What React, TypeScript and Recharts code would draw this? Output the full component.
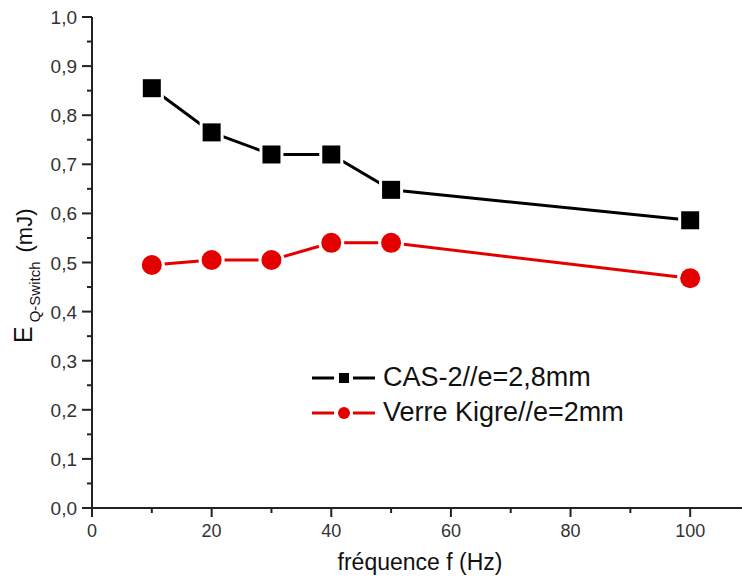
import React from 'react'
import { LineChart, Line, XAxis, YAxis, Legend } from 'recharts'

const FREQ = [10, 20, 30, 40, 50, 100]
const CAS2 = [0.855, 0.765, 0.72, 0.72, 0.648, 0.586]
const VERRE = [0.495, 0.505, 0.505, 0.54, 0.54, 0.468]

const X_TICKS = [0, 10, 20, 30, 40, 50, 60, 70, 80, 90, 100]
const Y_TICKS = [0, 0.05, 0.1, 0.15, 0.2, 0.25, 0.3, 0.35, 0.4, 0.45, 0.5, 0.55, 0.6, 0.65, 0.7, 0.75, 0.8, 0.85, 0.9, 0.95, 1.0]

const SERIES_NAMES = ['CAS-2//e=2,8mm', 'Verre Kigre//e=2mm']

const data = FREQ.map((f, i) => ({ f, cas: CAS2[i], verre: VERRE[i] }))

const FONT = '"Liberation Sans", Arial, sans-serif'
const AXIS = '#222'
const RED = '#e50000'

const isMajorX = (v: number) => v % 20 === 0
const isMajorY = (v: number) => Math.round(v * 100) % 10 === 0
const fmtY = (v: number) => v.toFixed(1).replace('.', ',')

function XTick(props: any) {
  const { x, y, payload, side } = props
  const major = isMajorX(payload.value)
  const len = major ? 9 : 5
  if (side === 'top') {
    return <line x1={x} y1={y} x2={x} y2={y + len} stroke={AXIS} strokeWidth={2} />
  }
  return (
    <g>
      <line x1={x} y1={y} x2={x} y2={y + len} stroke={AXIS} strokeWidth={2} />
      {major && (
        <text x={x} y={y + 29} textAnchor="middle" fontSize={18} fill="#333" fontFamily={FONT}>
          {payload.value}
        </text>
      )}
    </g>
  )
}

function YTick(props: any) {
  const { x, y, payload, side } = props
  const major = isMajorY(payload.value)
  const len = major ? 10 : 5
  if (side === 'right') {
    return <line x1={x - len} y1={y} x2={x} y2={y} stroke={AXIS} strokeWidth={2} />
  }
  return (
    <g>
      <line x1={x - len} y1={y} x2={x} y2={y} stroke={AXIS} strokeWidth={2} />
      {major && (
        <text x={x - 15} y={y + 7} textAnchor="end" fontSize={19} fill="#333" fontFamily={FONT}>
          {fmtY(payload.value)}
        </text>
      )}
    </g>
  )
}

function SquareDot(props: any) {
  const { cx, cy } = props
  if (cx == null || cy == null) return null
  return (
    <rect x={cx - 9} y={cy - 9} width={18} height={18} fill="#000"
      stroke="#fff" strokeWidth={6} style={{ paintOrder: 'stroke' }} />
  )
}

function CircleDot(props: any) {
  const { cx, cy } = props
  if (cx == null || cy == null) return null
  return (
    <circle cx={cx} cy={cy} r={10} fill={RED} stroke="#fff" strokeWidth={6}
      style={{ paintOrder: 'stroke' }} />
  )
}

function YLabel() {
  return (
    <text x={32} y={343} transform="rotate(-90, 32, 343)" fill="#111" fontFamily={FONT}>
      <tspan fontSize={25}>E</tspan>
      <tspan fontSize={15} dx={4} dy={8}>Q-Switch</tspan>
      <tspan fontSize={22} dx={9} dy={-8}>(mJ)</tspan>
    </text>
  )
}

function LegendBox(props: any) {
  const items = props.payload || []
  return (
    <div style={{ fontFamily: FONT }}>
      {items.map((it: any) => {
        const isCas = it.dataKey === 'cas'
        const color = isCas ? '#000' : RED
        return (
          <div key={it.dataKey} style={{ display: 'flex', alignItems: 'center', height: 35 }}>
            <svg width={71} height={20} style={{ flex: 'none' }}>
              <line x1={0} y1={10} x2={22} y2={10} stroke={color} strokeWidth={3} />
              <line x1={41} y1={10} x2={63} y2={10} stroke={color} strokeWidth={3} />
              {isCas
                ? <rect x={27} y={5} width={10} height={10} fill={color} />
                : <circle cx={32} cy={10} r={6} fill={color} />}
            </svg>
            <span style={{ fontSize: 27, color: '#111', lineHeight: '35px' }}>{it.value}</span>
          </div>
        )
      })}
    </div>
  )
}

export default function App() {
  return (
    <div style={{ position: 'absolute', left: 0, top: 0, width: 742, height: 583, overflow: 'hidden', background: '#fff' }}>
      <LineChart width={800} height={583} data={data} margin={{ top: 17, right: 50, bottom: 0, left: 0 }}>
        <XAxis xAxisId="b" dataKey="f" type="number" domain={[0, 110]} ticks={X_TICKS} interval={0}
          height={75} tickSize={0} tickMargin={0} tickLine={false}
          axisLine={{ stroke: AXIS, strokeWidth: 2 }}
          tick={(p: any) => <XTick {...p} side="bottom" />}
          label={() => (
            <text x={420} y={570} textAnchor="middle" fontSize={23} fill="#111" fontFamily={FONT}>
              fréquence f (Hz)
            </text>
          )} />
        <XAxis xAxisId="t" orientation="top" type="number" domain={[0, 110]} ticks={X_TICKS} interval={0}
          height={0} tickSize={0} tickMargin={0} tickLine={false}
          axisLine={{ stroke: AXIS, strokeWidth: 2 }}
          tick={(p: any) => <XTick {...p} side="top" />} />
        <YAxis yAxisId="l" type="number" domain={[0, 1]} ticks={Y_TICKS} interval={0}
          width={92} tickSize={0} tickMargin={0} tickLine={false}
          axisLine={{ stroke: AXIS, strokeWidth: 2 }}
          tick={(p: any) => <YTick {...p} side="left" />}
          label={() => <YLabel />} />
        <YAxis yAxisId="r" orientation="right" type="number" domain={[0, 1]} ticks={Y_TICKS} interval={0}
          width={0} tickSize={0} tickMargin={0} tickLine={false}
          axisLine={{ stroke: AXIS, strokeWidth: 2 }}
          tick={(p: any) => <YTick {...p} side="right" />} />
        <Legend content={<LegendBox />} layout="vertical" align="center" verticalAlign="middle"
          wrapperStyle={{ position: 'absolute', left: 312, top: 360, width: 380, bottom: 'auto', right: 'auto' }} />
        <Line xAxisId="b" yAxisId="l" type="linear" dataKey="cas" name={SERIES_NAMES[0]}
          stroke="#000" strokeWidth={3} dot={<SquareDot />} activeDot={false} isAnimationActive={false} />
        <Line xAxisId="b" yAxisId="l" type="linear" dataKey="verre" name={SERIES_NAMES[1]}
          stroke={RED} strokeWidth={3} dot={<CircleDot />} activeDot={false} isAnimationActive={false} />
      </LineChart>
    </div>
  )
}
